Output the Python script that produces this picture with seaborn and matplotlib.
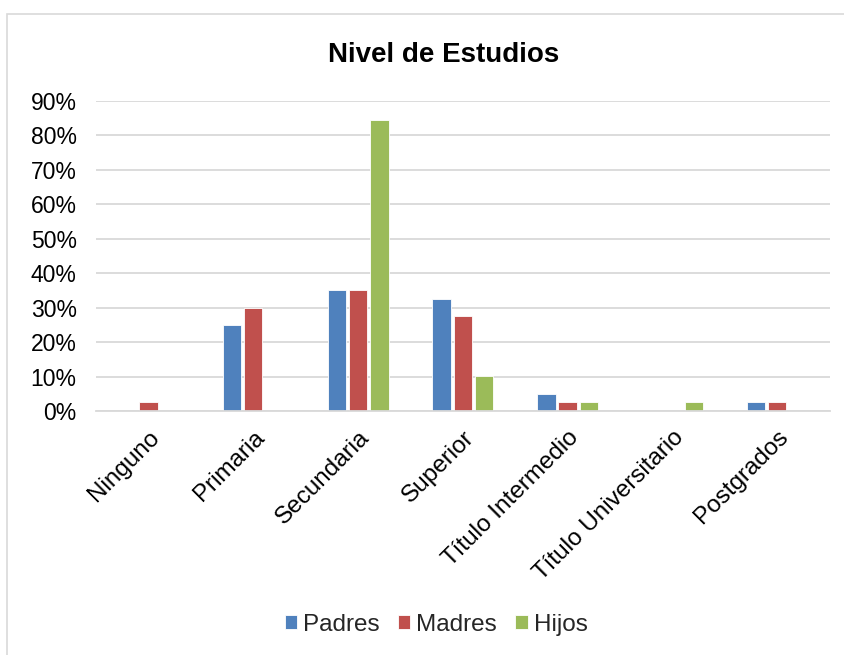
import pandas as pd
import matplotlib.pyplot as plt
import seaborn as sns
from matplotlib.patches import Rectangle
from matplotlib.ticker import PercentFormatter

# Data (shares of each group)
niveles = ['Ninguno', 'Primaria', 'Secundaria', 'Superior',
           'Título Intermedio', 'Título Universitario', 'Postgrados']
padres = [0.0, 0.25, 0.35, 0.325, 0.05, 0.0, 0.025]
madres = [0.025, 0.30, 0.35, 0.275, 0.025, 0.0, 0.025]
hijos = [0.0, 0.0, 0.846, 0.103, 0.0256, 0.0256, 0.0]
grupos = ['Padres', 'Madres', 'Hijos']
colores = ['#4F81BD', '#C0504D', '#9BBB59']

df = pd.DataFrame({
    'nivel': niveles * 3,
    'valor': padres + madres + hijos,
    'grupo': [g for g in grupos for _ in niveles],
})

sns.set_style('white')
plt.rcParams['font.family'] = ['Liberation Sans', 'DejaVu Sans']

fig = plt.figure(figsize=(8.44, 6.55), dpi=100)
ax = fig.add_axes([0.1138, 0.3725, 0.8692, 0.4733])

sns.barplot(data=df, x='nivel', y='valor', hue='grupo', order=niveles,
            hue_order=grupos, palette=colores, saturation=1, width=0.61, gap=0.14,
            edgecolor='white', linewidth=0.6, ax=ax)

ax.set_ylim(0, 0.9)
ax.set_yticks([i / 10 for i in range(10)])
ax.yaxis.set_major_formatter(PercentFormatter(1.0, decimals=0))
ax.grid(axis='y', color='#D9D9D9', linewidth=1.3)
ax.set_axisbelow(True)
for s in ['top', 'right', 'left']:
    ax.spines[s].set_visible(False)
ax.spines['bottom'].set_color('#D9D9D9')
ax.spines['bottom'].set_linewidth(1.3)
ax.tick_params(axis='y', length=0, labelsize=16.5, colors='black', pad=14)
ax.tick_params(axis='x', length=0, labelsize=17.5, colors='black', pad=11)
ax.set_xlabel('')
ax.set_ylabel('')
plt.setp(ax.get_xticklabels(), rotation=45, ha='right', rotation_mode='anchor')
ax.set_xlim(-0.5, len(niveles) - 0.5)

fig.text(0.526, 0.916, 'Nivel de Estudios', ha='center', va='center',
         fontsize=20, fontweight='bold', color='black')

ax.legend(loc='center', bbox_to_anchor=(0.517, 0.046), bbox_transform=fig.transFigure,
          ncol=3, frameon=False, fontsize=17.5, handlelength=0.5, handleheight=0.5,
          handletextpad=0.25, columnspacing=0.75)

fig.patches.append(Rectangle((7 / 844, -0.05), 1.1, 1 - 14 / 655 + 0.05,
                             transform=fig.transFigure, fill=False,
                             edgecolor='#D9D9D9', linewidth=1.2))

fig.savefig('out.png', dpi=100)
